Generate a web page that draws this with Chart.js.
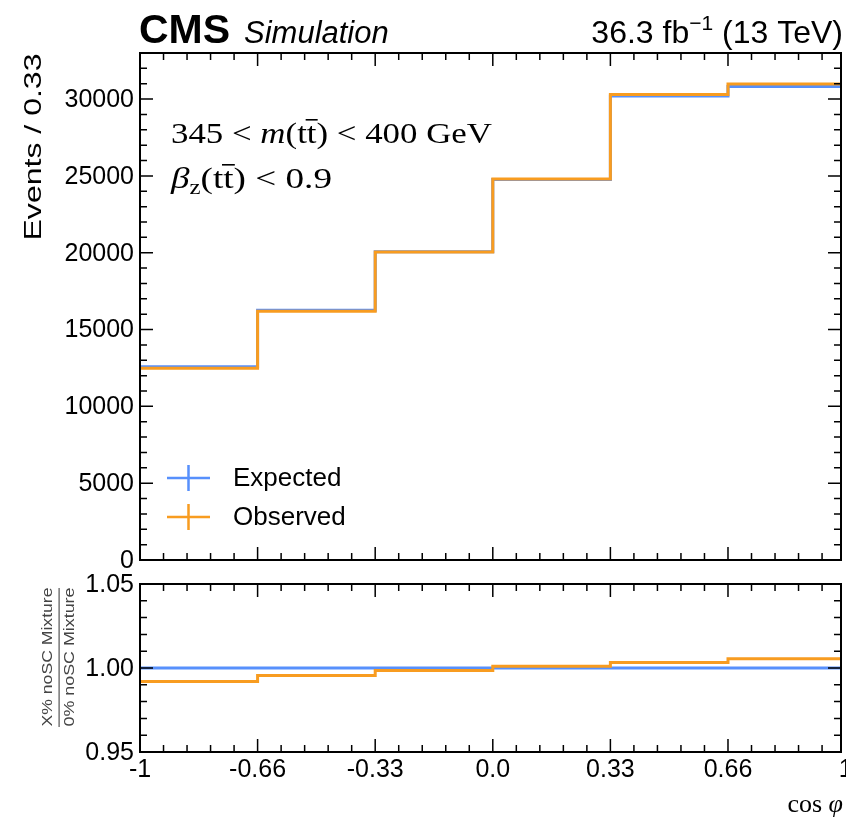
<!DOCTYPE html>
<html>
<head>
<meta charset="utf-8">
<script src="https://cdn.jsdelivr.net/npm/chart.js@4.4.0/dist/chart.umd.min.js"></script>
<style>
html, body { margin: 0; padding: 0; background: #fff; }
#wrap { position: relative; width: 846px; height: 821px; overflow: hidden; }
canvas { position: absolute; left: 0; top: 0; }
</style>
</head>
<body>
<div id="wrap">
  <canvas id="mainChart" width="846" height="821"></canvas>
  <canvas id="ratioChart" width="846" height="821"></canvas>
</div>
<script>
// bin edges of cos(phi) and the contents
var binEdges = [-1, -0.6667, -0.3333, 0, 0.3333, 0.6667, 1];
var expected = [12580, 16260, 20070, 24770, 30200, 30820];
var observed = [12480, 16190, 20040, 24795, 30300, 30990];
var ratioExpected = [1, 1, 1, 1, 1, 1];
var ratioObserved = [0.992, 0.9956, 0.9985, 1.001, 1.0033, 1.0055];

var xTickValues = [-1, -0.6667, -0.3333, 0, 0.3333, 0.6667, 1];
var xTickLabels = ['-1', '-0.66', '-0.33', '0.0', '0.33', '0.66', '1'];
var yTickValues = [0, 5000, 10000, 15000, 20000, 25000, 30000];
var yTickLabels = ['0', '5000', '10000', '15000', '20000', '25000', '30000'];
var ratioTickValues = [0.95, 1.00, 1.05];
var ratioTickLabels = ['0.95', '1.00', '1.05'];

var blue = '#5790fc';
var orange = '#f89c20';
var sans = '"Liberation Sans", Arial, sans-serif';
var serif = '"Liberation Serif", "Times New Roman", serif';

// histogram -> points for a stepped line (one point per left edge + last right edge)
function toSteps(vals) {
    var pts = [];
    for (var i = 0; i < vals.length; i++) {
        pts.push({x: binEdges[i], y: vals[i]});
    }
    pts.push({x: binEdges[vals.length], y: vals[vals.length - 1]});
    return pts;
}

function stepDataset(label, vals, color) {
    return {
        label: label,
        data: toSteps(vals),
        borderColor: color,
        backgroundColor: color,
        borderWidth: 3,
        stepped: true,
        pointRadius: 0,
        fill: false
    };
}

// inward ticks on all four sides + frame
function drawFrame(chart, yMajor, yMinorStep) {
    var ctx = chart.ctx, a = chart.chartArea;
    var xs = chart.scales.x, ys = chart.scales.y;
    ctx.save();
    ctx.strokeStyle = '#000';
    ctx.lineWidth = 1.5;
    ctx.beginPath();
    // x ticks: majors every 1/3, 5 subdivisions
    for (var i = 0; i <= 30; i++) {
        var v = -1 + i / 15;
        if (v > xs.max + 1e-6) continue;
        var px = xs.getPixelForValue(v);
        var len = (i % 5 == 0) ? 13 : 7;
        ctx.moveTo(px, a.bottom); ctx.lineTo(px, a.bottom - len);
        ctx.moveTo(px, a.top); ctx.lineTo(px, a.top + len);
    }
    // y ticks
    var n = Math.round((ys.max - ys.min) / yMinorStep);
    for (var j = 0; j <= n; j++) {
        var yv = ys.min + j * yMinorStep;
        var py = ys.getPixelForValue(yv);
        var major = yMajor.some(function (m) { return Math.abs(m - yv) < yMinorStep / 10; });
        var l = major ? 13 : 7;
        ctx.moveTo(a.left, py); ctx.lineTo(a.left + l, py);
        ctx.moveTo(a.right, py); ctx.lineTo(a.right - l, py);
    }
    ctx.stroke();
    ctx.lineWidth = 2;
    ctx.strokeRect(a.left, a.top, a.right - a.left, a.bottom - a.top);
    ctx.restore();
}

function drawYLabels(chart, values, labels) {
    var ctx = chart.ctx, ys = chart.scales.y, a = chart.chartArea;
    ctx.save();
    ctx.fillStyle = '#000';
    ctx.font = '25px ' + sans;
    ctx.textAlign = 'right';
    ctx.textBaseline = 'middle';
    for (var i = 0; i < values.length; i++) {
        ctx.fillText(labels[i], a.left - 6, ys.getPixelForValue(values[i]) + 1);
    }
    ctx.restore();
}

// draw a sequence of styled runs, squeezed/stretched to a target width
function drawRuns(ctx, runs, x, y, targetW) {
    var total = 0;
    runs.forEach(function (r) { ctx.font = r.f; r.w = ctx.measureText(r.t).width; total += r.w; });
    var k = targetW ? targetW / total : 1;
    ctx.save();
    ctx.translate(x, y);
    ctx.scale(k, 1);
    var cx = 0;
    runs.forEach(function (r) {
        ctx.font = r.f;
        ctx.fillText(r.t, cx, r.dy || 0);
        if (r.bar) {
            ctx.fillRect(cx - 1, -24, r.w + 2, 1.6);
        }
        cx += r.w;
    });
    ctx.restore();
}

function rotatedText(ctx, txt, cx, cy, font, len, color) {
    ctx.save();
    ctx.font = font;
    ctx.fillStyle = color;
    ctx.textAlign = 'center';
    ctx.textBaseline = 'middle';
    var w = ctx.measureText(txt).width;
    ctx.translate(cx, cy);
    ctx.rotate(-Math.PI / 2);
    ctx.scale(len / w, 1);
    ctx.fillText(txt, 0, 0);
    ctx.restore();
}

var mainDecor = {
    id: 'mainDecor',
    afterDraw: function (chart) {
        var ctx = chart.ctx;
        drawFrame(chart, yTickValues, 1000);
        drawYLabels(chart, yTickValues, yTickLabels);

        ctx.save();
        ctx.fillStyle = '#000';
        ctx.textBaseline = 'alphabetic';
        ctx.textAlign = 'left';
        // header
        ctx.font = 'bold 41px ' + sans;
        ctx.fillText('CMS', 139, 43);
        ctx.font = 'italic 31px ' + sans;
        ctx.fillText('Simulation', 244, 43);
        var lumiRuns = [
            {t: '36.3 fb', f: '32px ' + sans},
            {t: '\u22121', f: '21px ' + sans, dy: -13},
            {t: ' (13 TeV)', f: '32px ' + sans}
        ];
        var lw = 0;
        lumiRuns.forEach(function (r) { ctx.font = r.f; lw += ctx.measureText(r.t).width; });
        drawRuns(ctx, lumiRuns, 843 - lw, 43);

        // selection text
        var f = '30px ' + serif, fi = 'italic 30px ' + serif;
        drawRuns(ctx, [
            {t: '345 < ', f: f},
            {t: 'm', f: fi},
            {t: '(t', f: f},
            {t: 't', f: f, bar: true},
            {t: ') < 400 GeV', f: f}
        ], 171, 143, 321);
        drawRuns(ctx, [
            {t: '\u03b2', f: fi},
            {t: 'z', f: '20px ' + serif, dy: 6},
            {t: '(t', f: f},
            {t: 't', f: f, bar: true},
            {t: ') < 0.9', f: f}
        ], 171, 188, 161);

        // legend
        var items = [['Expected', blue, 478], ['Observed', orange, 517]];
        items.forEach(function (it) {
            ctx.strokeStyle = it[1];
            ctx.lineWidth = 2.5;
            ctx.beginPath();
            ctx.moveTo(167, it[2]); ctx.lineTo(210, it[2]);
            ctx.moveTo(188.5, it[2] - 13); ctx.lineTo(188.5, it[2] + 13);
            ctx.stroke();
            ctx.fillStyle = '#000';
            ctx.font = '26px ' + sans;
            ctx.textBaseline = 'middle';
            ctx.fillText(it[0], 233, it[2] + 1);
        });
        ctx.restore();

        rotatedText(ctx, 'Events / 0.33', 34, 147, '24px ' + sans, 187, '#000');
    }
};

var ratioDecor = {
    id: 'ratioDecor',
    afterDraw: function (chart) {
        var ctx = chart.ctx, xs = chart.scales.x;
        drawFrame(chart, ratioTickValues, 0.01);
        drawYLabels(chart, ratioTickValues, ratioTickLabels);

        ctx.save();
        ctx.fillStyle = '#000';
        ctx.font = '25px ' + sans;
        ctx.textAlign = 'center';
        ctx.textBaseline = 'top';
        for (var i = 0; i < xTickValues.length; i++) {
            ctx.fillText(xTickLabels[i], xs.getPixelForValue(xTickValues[i]), 758);
        }
        // x title
        ctx.textAlign = 'left';
        ctx.textBaseline = 'alphabetic';
        var xr = [{t: 'cos ', f: '26px ' + serif}, {t: '\u03c6', f: 'italic 26px ' + serif}];
        var w = 0;
        xr.forEach(function (r) { ctx.font = r.f; w += ctx.measureText(r.t).width; });
        drawRuns(ctx, xr, 843 - w, 812);

        // ratio y title as a fraction
        ctx.fillStyle = '#555';
        ctx.fillRect(58.5, 588, 1.2, 139);
        ctx.restore();
        rotatedText(ctx, 'X% noSC Mixture', 48, 657, '15px ' + sans, 139, '#444');
        rotatedText(ctx, '0% noSC Mixture', 70, 657, '15px ' + sans, 139, '#444');
    }
};

var mainChart = new Chart(document.getElementById('mainChart').getContext('2d'), {
    type: 'line',
    data: {
        datasets: [
            stepDataset('Observed', observed, orange),
            stepDataset('Expected', expected, blue)
        ]
    },
    options: {
        responsive: false,
        animation: false,
        devicePixelRatio: 1,
        layout: {padding: {left: 140, right: 5, top: 53, bottom: 261}},
        scales: {
            x: {type: 'linear', min: -1, max: 0.987, display: false},
            y: {type: 'linear', min: 0, max: 33000, display: false}
        },
        plugins: {legend: {display: false}, tooltip: {enabled: false}}
    },
    plugins: [mainDecor]
});

var ratioChart = new Chart(document.getElementById('ratioChart').getContext('2d'), {
    type: 'line',
    data: {
        datasets: [
            stepDataset('Observed', ratioObserved, orange),
            stepDataset('Expected', ratioExpected, blue)
        ]
    },
    options: {
        responsive: false,
        animation: false,
        devicePixelRatio: 1,
        layout: {padding: {left: 140, right: 5, top: 584, bottom: 69}},
        scales: {
            x: {type: 'linear', min: -1, max: 0.987, display: false},
            y: {type: 'linear', min: 0.95, max: 1.05, display: false}
        },
        plugins: {legend: {display: false}, tooltip: {enabled: false}}
    },
    plugins: [ratioDecor]
});
</script>
</body>
</html>
